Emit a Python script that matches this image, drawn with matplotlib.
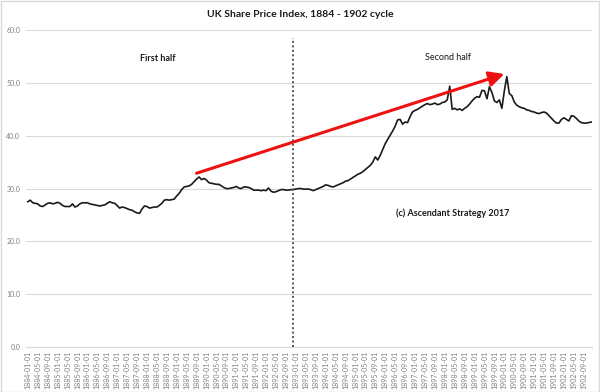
import matplotlib

matplotlib.use("Agg")
import matplotlib.pyplot as plt
from matplotlib.patches import Rectangle

plt.rcParams["font.family"] = ["Lato", "DejaVu Sans"]

# monthly index values, Jan 1884 - Dec 1902 (12 per year)
years = list(range(1884, 1903))
values = [
    27.5, 27.8, 27.3, 27.2, 27.1, 26.7, 26.6, 26.9, 27.2, 27.3, 27.1, 27.2,  # 1884
    27.4, 27.2, 26.8, 26.6, 26.6, 26.6, 27.1, 26.5, 26.7, 27.1, 27.3, 27.3,  # 1885
    27.3, 27.1, 27.0, 26.9, 26.8, 26.7, 26.8, 26.9, 27.2, 27.5, 27.3, 27.2,  # 1886
    26.8, 26.3, 26.5, 26.4, 26.2, 26.0, 25.9, 25.6, 25.4, 25.3, 26.1, 26.7,  # 1887
    26.6, 26.3, 26.4, 26.5, 26.5, 26.8, 27.2, 27.8, 27.9, 27.8, 27.9, 28.0,  # 1888
    28.6, 29.1, 29.8, 30.3, 30.4, 30.5, 30.8, 31.3, 31.8, 32.2, 31.7, 31.9,  # 1889
    31.6, 31.1, 31.0, 30.9, 30.8, 30.8, 30.5, 30.2, 30.0, 30.0, 30.1, 30.2,  # 1890
    30.4, 30.1, 30.0, 30.3, 30.3, 30.2, 30.0, 29.7, 29.7, 29.7, 29.6, 29.7,  # 1891
    29.6, 30.1, 29.5, 29.3, 29.4, 29.6, 29.8, 29.8, 29.7, 29.7, 29.8, 29.8,  # 1892
    29.9, 30.0, 30.0, 29.9, 29.9, 29.9, 29.8, 29.6, 29.8, 30.0, 30.2, 30.4,  # 1893
    30.7, 30.6, 30.4, 30.3, 30.5, 30.7, 30.9, 31.1, 31.4, 31.5, 31.8, 32.1,  # 1894
    32.4, 32.7, 32.9, 33.2, 33.6, 34.0, 34.4, 35.0, 36.0, 35.4, 36.3, 37.4,  # 1895
    38.5, 39.3, 40.1, 40.9, 41.8, 43.0, 43.1, 42.2, 42.6, 42.5, 43.6, 44.5,  # 1896
    44.8, 45.0, 45.3, 45.6, 45.9, 46.1, 45.9, 46.0, 46.2, 45.9, 46.0, 46.3,  # 1897
    46.4, 46.8, 49.4, 45.0, 45.2, 44.9, 45.1, 44.8, 45.2, 45.5, 46.0, 46.6,  # 1898
    47.1, 47.4, 47.3, 48.6, 48.5, 47.0, 49.3, 48.2, 46.6, 46.3, 46.8, 45.2,  # 1899
    48.5, 51.2, 48.0, 47.6, 46.4, 45.8, 45.5, 45.3, 45.2, 44.9, 44.8, 44.6,  # 1900
    44.5, 44.3, 44.2, 44.4, 44.5, 44.3, 43.8, 43.3, 42.8, 42.4, 42.4, 43.1,  # 1901
    43.4, 43.1, 42.8, 43.8, 43.7, 43.3, 42.8, 42.5, 42.4, 42.4, 42.5, 42.6,  # 1902
]
dates = [f"{y}-{m:02d}-01" for y in years for m in range(1, 13)]

split_month = "1892-12-01"
arrow_start = ("1889-09-01", 32.9)
arrow_end = ("1900-01-01", 51.7)

fig = plt.figure(figsize=(6, 3.92), dpi=100)
ax = fig.add_axes([0.043, 0.115, 0.944, 0.808])

x = list(range(len(values)))
ax.plot(x, values, color="#1a1a1a", linewidth=1.2, zorder=3)

ax.set_ylim(0, 60)
ax.set_yticks(range(0, 61, 10))
ax.set_yticklabels([f"{v:.1f}" for v in range(0, 61, 10)])
ax.set_xlim(-0.8, 227.4)
ax.set_xticks(x[::4])
ax.set_xticklabels(dates[::4], rotation=90)
ax.tick_params(axis="both", length=0, colors="#7f7f7f", labelsize=5)
ax.tick_params(axis="y", pad=4)
ax.tick_params(axis="x", pad=3)
ax.grid(axis="y", color="#d9d9d9", linewidth=0.8)
ax.set_axisbelow(True)
for side in ["top", "right", "left"]:
    ax.spines[side].set_visible(False)
ax.spines["bottom"].set_color("#d9d9d9")

split_x = dates.index(split_month)
ax.plot([split_x, split_x], [0, 58.5], color="#555555", linewidth=1.4,
        linestyle=(0, (1.0, 1.3)), zorder=4)

ax.annotate("", xy=(dates.index(arrow_end[0]), arrow_end[1]),
            xytext=(dates.index(arrow_start[0]), arrow_start[1]),
            arrowprops=dict(arrowstyle="-|>,head_length=0.9,head_width=0.45",
                            color="#ee1111", linewidth=2.2, shrinkA=0, shrinkB=0),
            zorder=5)

ax.text(52.4, 54.7, "First half", ha="center", va="center", fontsize=6.5,
        fontweight="bold", color="#1a1a1a")
ax.text(169.4, 54.9, "Second half", ha="center", va="center", fontsize=6.5,
        color="#1a1a1a")
ax.text(171, 25.4, "(c) Ascendant Strategy 2017", ha="center", va="center",
        fontsize=6.5, fontweight="bold", color="#1a1a1a")

fig.text(0.5, 0.962, "UK Share Price Index, 1884 - 1902 cycle", ha="center",
         va="center", fontsize=7.5, fontweight="bold", color="#1a1a1a")

fig.patches.append(Rectangle((0.001, 0.001), 0.997, 0.997, transform=fig.transFigure,
                             fill=False, edgecolor="#d9d9d9", linewidth=1))

fig.savefig("out.png", dpi=100)
